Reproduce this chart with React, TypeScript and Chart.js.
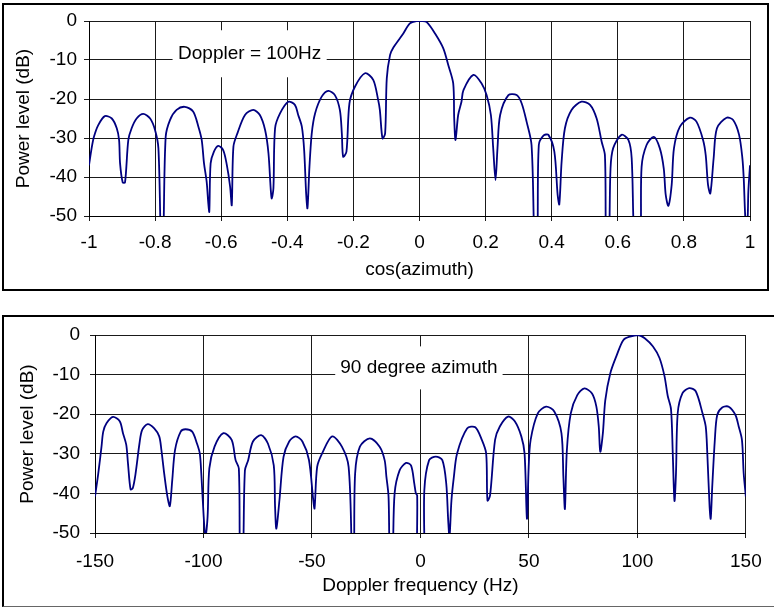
import React, { useEffect, useRef } from 'react';
import { Chart, registerables } from 'chart.js';

Chart.register(...registerables);

// ---- Top chart: Doppler = 100Hz, power vs cos(azimuth) ----
const cosAzimuth = [
  -1, -0.992, -0.985, -0.972, -0.952, -0.931, -0.916, -0.909, -0.906, -0.898, -0.891, -0.881, -0.871, -0.856,
  -0.836, -0.815, -0.8, -0.79, -0.783, -0.779, -0.775, -0.768, -0.755, -0.735, -0.71, -0.685, -0.669, -0.659,
  -0.652, -0.644, -0.639, -0.636, -0.632, -0.622, -0.609, -0.594, -0.583, -0.573, -0.568, -0.563, -0.551, -0.528,
  -0.503, -0.483, -0.467, -0.457, -0.45, -0.447, -0.442, -0.437, -0.422, -0.397, -0.377, -0.367, -0.356, -0.349,
  -0.343, -0.339, -0.333, -0.326, -0.316, -0.296, -0.276, -0.256, -0.241, -0.235, -0.231, -0.221, -0.212, -0.195,
  -0.165, -0.14, -0.125, -0.12, -0.112, -0.104, -0.099, -0.089, -0.079, -0.049, -0.029, -0.009, 0.008, 0.022,
  0.047, 0.072, 0.087, 0.102, 0.105, 0.109, 0.117, 0.127, 0.133, 0.163, 0.188, 0.203, 0.216, 0.223, 0.23, 0.236,
  0.244, 0.269, 0.294, 0.309, 0.324, 0.339, 0.347, 0.352, 0.357, 0.361, 0.375, 0.39, 0.408, 0.418, 0.423, 0.43,
  0.44, 0.46, 0.49, 0.516, 0.536, 0.551, 0.561, 0.564, 0.569, 0.574, 0.578, 0.586, 0.611, 0.632, 0.642, 0.649,
  0.659, 0.669, 0.672, 0.687, 0.709, 0.727, 0.739, 0.745, 0.753, 0.763, 0.77, 0.788, 0.818, 0.838, 0.858, 0.866,
  0.873, 0.88, 0.89, 0.9, 0.929, 0.949, 0.967, 0.977, 0.981, 0.987, 0.992, 0.995, 1,
];
const azimuthPower = [
  -37, -32.6, -29.7, -26.7, -24.4, -25, -27.5, -30.5, -36.5, -41.4, -41.4, -30.5, -27.5, -25,
  -23.8, -25, -28, -32.6, -55, -60, -55, -29.7, -25.4, -22.8, -22, -23.2, -27.1, -30.5,
  -36.5, -41.2, -46.8, -48.9, -36.5, -33.5, -32, -33.1, -36.9, -42.5, -47.2, -32.2, -28.8, -24.1,
  -22.8, -24.1, -28, -33.9, -43.3, -45.5, -42.9, -27.5, -23.7, -20.7, -21.5, -24.1, -27.1, -33.1,
  -44.2, -48, -37.4, -28.8, -23.7, -19.4, -17.9, -19, -22.8, -28.8, -34.8, -33.5, -21.1, -16.8,
  -13.4, -15.1, -20.3, -22.8, -30.1, -28.8, -14.7, -8.7, -6.8, -3.2, -0.6, 0, 0, -0.3,
  -3.2, -7, -11.3, -16, -25, -30.5, -24.1, -20.7, -17.7, -13.8, -16, -19, -24.1, -32.6, -40.8, -32.6,
  -24.1, -19, -19, -21.1, -25.8, -31.8, -55, -60, -55, -31.8, -29.4, -29.2, -33.5, -44.6, -47, -36.1,
  -27.5, -22.8, -20.7, -21.5, -25, -30.9, -34.4, -55, -60, -55, -37.8, -32.6, -29.2, -30.5, -35.2, -55,
  -60, -55, -37.4, -31.8, -29.7, -32.6, -37.8, -44.6, -47.4, -42, -32.6, -27.1, -24.8, -25.8, -30.5, -34.4,
  -42, -44.2, -35.2, -27.5, -24.8, -25.4, -29.2, -35.2, -40.3, -52, -52, -43.8, -37,
];
const cosTickLabels = ['-1', '-0.8', '-0.6', '-0.4', '-0.2', '0', '0.2', '0.4', '0.6', '0.8', '1'];

// ---- Bottom chart: 90 degree azimuth, power vs Doppler frequency ----
const dopplerFreq = [
  -150, -148.5, -147, -146.2, -144.7, -141.7, -138.6, -137.1, -135.6, -134.8, -133.6, -132.6, -131.3, -129.5,
  -128.3, -125.7, -122.7, -120.4, -119.4, -118.1, -116.6, -115.5, -114.4, -113.1, -110.5, -108.3, -105.2, -103,
  -101.7, -101, -99.9, -99.1, -98.1, -97.3, -94.9, -90.8, -87, -85.2, -83.7, -83.2, -82.4, -81.7, -80.9, -79.4,
  -77.2, -73.4, -70.3, -67.6, -67, -66.4, -65, -63.1, -60.5, -57.5, -54.4, -51.4, -49.4, -48.8, -47.6, -45.3,
  -40.7, -36.2, -33.1, -31.6, -31.1, -30.6, -30.1, -27.9, -23.3, -18.8, -16.5, -15.7, -14.7, -14.2, -13.3, -12.7,
  -11.9, -9.6, -6.6, -4.3, -2.8, -2.1, -1.5, -1.2, 1.5, 1.8, 4, 7.1, 10.1, 11.9, 12.8, 13.4, 14.3, 15.4, 16.9,
  21.5, 25.3, 28.3, 30.3, 30.9, 32.1, 34.4, 36.6, 40.4, 43.5, 46.5, 48, 49.1, 49.9, 50.8, 54.1, 57.9, 61.7, 65,
  65.9, 66.6, 67.5, 69.3, 72.3, 75.6, 79.1, 81.1, 82.2, 82.9, 84.1, 85.2, 87.5, 90.5, 93.5, 96.6, 100.4, 103.4,
  107.2, 110.2, 112.5, 114, 115.5, 116.3, 117.1, 117.8, 118.6, 120.8, 123.9, 126.9, 130, 131.5, 132.2, 133.3,
  133.8, 134.5, 135.7, 136.8, 139.1, 142.1, 145.2, 146.7, 148.2, 149, 150,
];
const dopplerPower = [
  -40.8, -35, -28.2, -24.4, -22.3, -20.7, -21.8, -24.8, -27.7, -32.4, -39, -38.7, -35, -27.4,
  -24, -22.5, -23.6, -25.6, -29, -35, -40.9, -43.2, -36.7, -29, -24.4, -23.8, -24.4, -27.4,
  -29.9, -35, -45.9, -51, -45.9, -33.7, -28.2, -24.8, -26.5, -31.6, -33.7, -55, -60, -55, -34.2, -31.6,
  -26.9, -25.3, -27.4, -32.9, -43.4, -48.9, -41.8, -30.8, -26.9, -25.6, -26.9, -31.5, -41.7, -43.8, -33.3, -29.9,
  -25.6, -28.2, -33.3, -55, -60, -55, -35, -28.2, -26.1, -28.2, -31.6, -35.7, -40.8, -55, -60, -55,
  -40, -34.2, -32.3, -33, -37.6, -40, -40.5, -60, -60, -39.2, -31.6, -30.7, -31.6, -37.5, -46.8, -51, -41.8, -35.9, -29.9,
  -23.6, -23.3, -26.5, -29.9, -41.8, -40.5, -26.5, -23.1, -20.6, -21.8, -25.6, -29.9, -46.4, -33.3, -26.5, -19.8, -18.1, -19.3, -24.8,
  -35.9, -43.9, -29.1, -19.8, -15.2, -13.5, -14.8, -18.1, -23.1, -29.5, -24.8, -16.5, -9.7, -5.1, -1.3, -0.4, 0, -0.8,
  -2.9, -5.8, -10.4, -15.4, -18.7, -29.7, -41.9, -34.9, -19.7, -14.7, -13.4, -14.2, -19.7, -23.1, -29.5, -43.5,
  -46.4, -38.4, -26.5, -20.2, -18.3, -18.1, -20.2, -23.1, -26.5, -34.9, -40.8,
];
const dopplerTickLabels = ['-150', '-100', '-50', '0', '50', '100', '150'];

const FONT = '"Liberation Sans", Arial, sans-serif';
const LINE_COLOR = '#000080';

const calloutPlugin = {
  id: 'callout',
  afterDatasetsDraw(chart: any, _args: any, opts: any) {
    if (!opts || !opts.text) return;
    const { ctx, scales } = chart;
    const cx = scales.x.getPixelForValue(opts.x);
    const cy = scales.y.getPixelForValue(opts.y);
    ctx.save();
    ctx.font = `19px ${FONT}`;
    const w = ctx.measureText(opts.text).width + opts.padX * 2;
    ctx.fillStyle = '#ffffff';
    ctx.fillRect(cx - w / 2, cy - opts.h / 2, w, opts.h);
    ctx.fillStyle = '#000000';
    ctx.textAlign = 'center';
    ctx.textBaseline = 'middle';
    ctx.fillText(opts.text, cx, cy);
    ctx.restore();
  },
};

interface PanelCfg {
  xs: number[];
  ys: number[];
  xMin: number;
  xMax: number;
  xStep: number;
  xLabels: string[];
  xTitle: string;
  yAxisWidth: number;
  xAxisHeight: number;
  padTop: number;
  padRight: number;
  xTickPad: number;
  yTickPad: number;
  xTitlePadBottom: number;
  yTitlePadTop: number;
  callout: { text: string; x: number; y: number; padX: number; h: number };
}

function Panel({ cfg, width, height, top }: { cfg: PanelCfg; width: number; height: number; top: number }) {
  const ref = useRef<HTMLCanvasElement | null>(null);
  useEffect(() => {
    if (!ref.current) return;
    const font = { family: FONT, size: 19 };
    const chart = new Chart(ref.current, {
      type: 'line',
      data: {
        datasets: [
          {
            data: cfg.xs.map((x, i) => ({ x, y: cfg.ys[i] })),
            borderColor: LINE_COLOR,
            borderWidth: 1.8,
            pointRadius: 0,
            tension: 0.3,
            fill: false,
          },
        ],
      },
      options: {
        animation: false,
        responsive: false,
        maintainAspectRatio: false,
        events: [],
        layout: { padding: { left: 0, right: cfg.padRight, top: cfg.padTop, bottom: 0 } },
        plugins: {
          legend: { display: false },
          tooltip: { enabled: false },
          callout: cfg.callout,
        } as any,
        scales: {
          x: {
            type: 'linear',
            min: cfg.xMin,
            max: cfg.xMax,
            ticks: {
              stepSize: cfg.xStep,
              autoSkip: false,
              maxRotation: 0,
              padding: cfg.xTickPad,
              color: '#000',
              font,
              callback: (_v: any, i: number) => cfg.xLabels[i],
            },
            grid: { color: '#1a1a1a', lineWidth: 1, tickLength: 5, drawTicks: true },
            border: { color: '#000', width: 1 },
            title: {
              display: true,
              text: cfg.xTitle,
              color: '#000',
              font,
              padding: { top: 0, bottom: cfg.xTitlePadBottom },
            },
            afterFit: (s: any) => {
              s.height = cfg.xAxisHeight;
            },
          },
          y: {
            type: 'linear',
            min: -50,
            max: 0,
            ticks: { stepSize: 10, padding: cfg.yTickPad, color: '#000', font },
            grid: { color: '#1a1a1a', lineWidth: 1, tickLength: 5, drawTicks: true },
            border: { color: '#000', width: 1 },
            title: {
              display: true,
              text: 'Power level (dB)',
              color: '#000',
              font,
              padding: { top: cfg.yTitlePadTop, bottom: 0 },
            },
            afterFit: (s: any) => {
              s.width = cfg.yAxisWidth;
            },
          },
        },
      },
      plugins: [calloutPlugin],
    } as any);
    return () => chart.destroy();
  }, [cfg]);
  return (
    <canvas
      ref={ref}
      width={width}
      height={height}
      style={{ position: 'absolute', left: 0, top, width, height, display: 'block' }}
    />
  );
}

const topCfg: PanelCfg = {
  xs: cosAzimuth,
  ys: azimuthPower,
  xMin: -1,
  xMax: 1,
  xStep: 0.2,
  xLabels: cosTickLabels,
  xTitle: 'cos(azimuth)',
  yAxisWidth: 89,
  xAxisHeight: 84,
  padTop: 21,
  padRight: 24,
  xTickPad: 10.3,
  yTickPad: 7,
  xTitlePadBottom: 18.6,
  yTitlePadTop: 12.1,
  callout: { text: 'Doppler = 100Hz', x: -0.514, y: -8.4, padX: 5.5, h: 47 },
};

const bottomCfg: PanelCfg = {
  xs: dopplerFreq,
  ys: dopplerPower,
  xMin: -150,
  xMax: 150,
  xStep: 50,
  xLabels: dopplerTickLabels,
  xTitle: 'Doppler frequency (Hz)',
  yAxisWidth: 95,
  xAxisHeight: 74,
  padTop: 35,
  padRight: 20,
  xTickPad: 12.3,
  yTickPad: 10,
  xTitlePadBottom: 9.6,
  yTitlePadTop: 16.1,
  callout: { text: '90 degree azimuth', x: -0.7, y: -8.3, padX: 5, h: 43 },
};

export default function App() {
  return (
    <div style={{ position: 'absolute', left: 0, top: 0, width: 774, height: 607, background: '#fff', overflow: 'hidden' }}>
      <Panel cfg={topCfg} width={774} height={300} top={0} />
      <Panel cfg={bottomCfg} width={774} height={307} top={300} />
      <div
        style={{
          position: 'absolute',
          left: 2,
          top: 3,
          width: 767,
          height: 288,
          border: '2px solid #000',
          boxSizing: 'border-box',
          pointerEvents: 'none',
        }}
      />
      <div
        style={{
          position: 'absolute',
          left: 2,
          top: 315,
          width: 780,
          height: 292,
          borderLeft: '2px solid #000',
          borderTop: '2px solid #000',
          borderBottom: '1px solid #666',
          boxSizing: 'border-box',
          pointerEvents: 'none',
        }}
      />
    </div>
  );
}
